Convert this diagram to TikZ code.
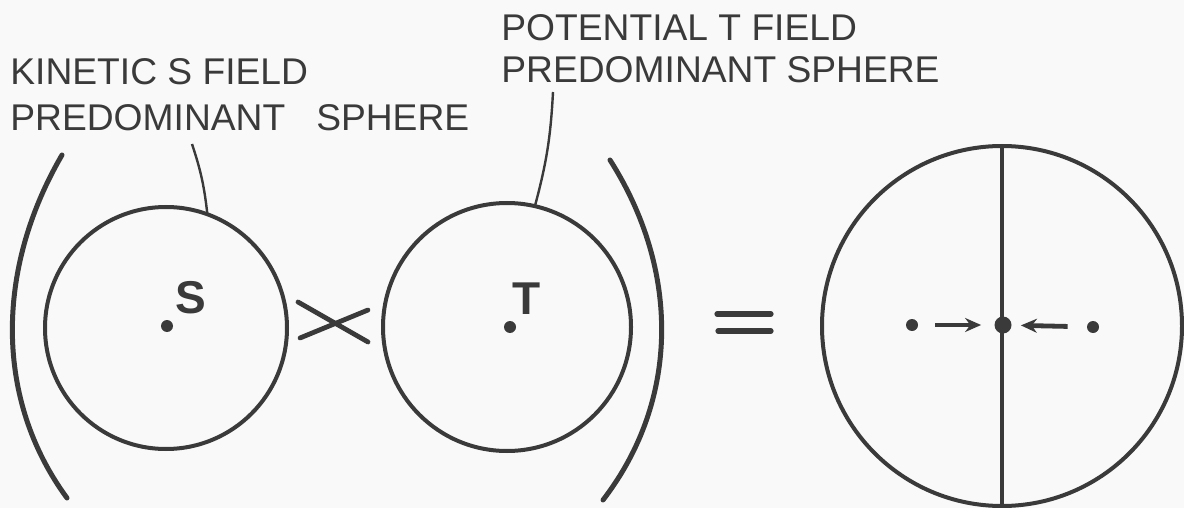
\documentclass[tikz,border=0pt]{standalone}
\usepackage{fontspec}
\setmainfont{Liberation Sans}
\usetikzlibrary{arrows.meta}
\definecolor{ink}{RGB}{58,58,58}
\definecolor{paper}{RGB}{249,249,249}
\begin{document}
\begin{tikzpicture}[x=0.5pt,y=-0.5pt,
  sph/.style={circle,draw=ink,line width=2pt,inner sep=0pt,outer sep=0pt},
  lbl/.style={anchor=base west,text=ink,inner sep=0pt,font=\fontsize{18.6}{21}\selectfont},
  letter/.style={text=ink,inner sep=0pt,font=\fontsize{23}{26}\selectfont\bfseries},
  dotnode/.style={circle,fill=ink,inner sep=0pt,minimum size=#1},
  leader/.style={draw=ink,line width=1.2pt},
  paren/.style={draw=ink,line width=2.5pt,line cap=round},
  stroke/.style={draw=ink,line width=2.4pt,line cap=round},
  arr/.style={draw=ink,line width=2.4pt,-{Stealth[length=8pt,width=7pt]}}]
\fill[paper] (0,0) rectangle (1184,508);
\useasboundingbox (0,0) rectangle (1184,508);
% labels
\node[lbl] (k1) at (10,85) {KINETIC S FIELD};
\node[lbl] (k2) at (10,131) {PREDOMINANT\ \ \ SPHERE};
\node[lbl] (p1) at (501,41) {POTENTIAL T FIELD};
\node[lbl] (p2) at (501,83) {PREDOMINANT SPHERE};
% spheres
\node[sph,minimum size=121pt] (S) at (166,328) {};
\node[sph,minimum size=124pt] (T) at (507,327) {};
\node[sph,minimum size=180pt] (R) at (1002,326) {};
% centre points
\node[dotnode=6pt] (sd) at (167,326) {};
\node[letter] (sl) at (191,298) {S};
\node[dotnode=6pt] (td) at (510,327) {};
\node[letter] (tl) at (527,299) {T};
% leaders
\coordinate (ls) at (192,144);
\coordinate (lt) at (553,92);
\draw[leader] (ls) to[bend left=6] (S.70);
\draw[leader] (lt) to[bend left=6] (T.77);
% parentheses
\draw[paren] (62,155) .. controls (-5,270) and (-5,400) .. (67,498);
\draw[paren] (610,160) .. controls (680,270) and (680,400) .. (603,500);
% cross
\draw[stroke] (298,302) -- (368,342);
\draw[stroke] (300,338) -- (368,310);
% equals
\draw[draw=ink,line width=2.6pt,line cap=round] (717,314) -- (771,314);
\draw[draw=ink,line width=2.6pt,line cap=round] (718,331) -- (771,331);
% right sphere
\draw[draw=ink,line width=1.8pt] (R.north) -- (R.south);
\node[dotnode=6pt] (d1) at (912,325) {};
\node[dotnode=8.5pt] (d2) at (1003,325) {};
\node[dotnode=6pt] (d3) at (1093,327) {};
\draw[arr,shorten <=8.5pt,shorten >=6.5pt] (d1) -- (d2);
\draw[arr,shorten <=9.5pt,shorten >=4.5pt] (d3) -- (d2);
\end{tikzpicture}
\end{document}
